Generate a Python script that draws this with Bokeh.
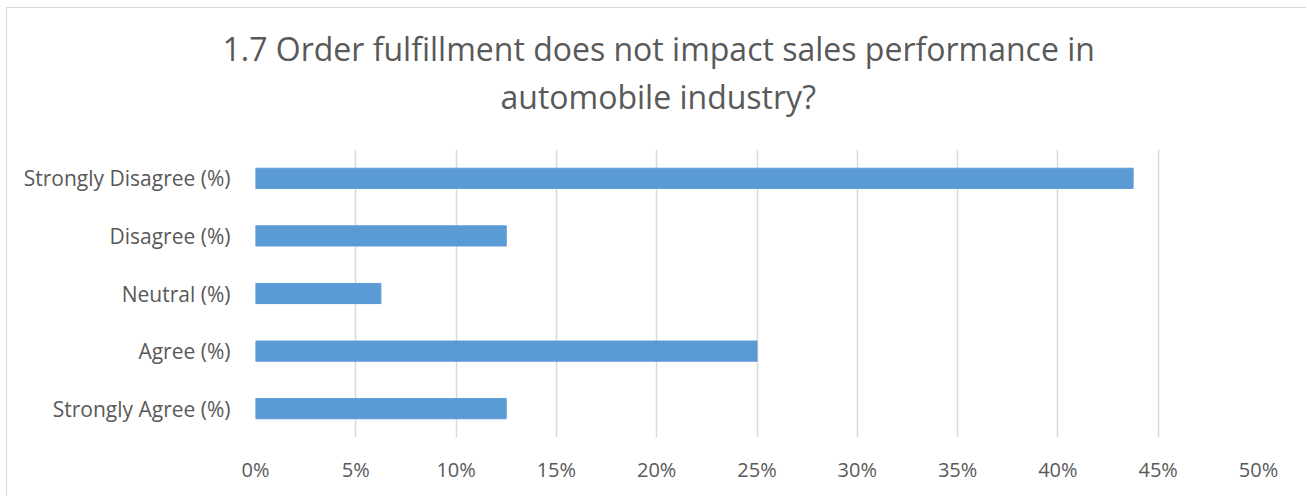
from bokeh.plotting import figure
from bokeh.models import Title, FixedTicker, Range1d
from bokeh.layouts import column
from bokeh.embed import file_html
from bokeh.resources import INLINE

categories = ["Strongly Agree (%)", "Agree (%)", "Neutral (%)", "Disagree (%)", "Strongly Disagree (%)"]
values = [12.5, 25.0, 6.25, 12.5, 43.75]
ticks = [0, 5, 10, 15, 20, 25, 30, 35, 40, 45, 50]
title_lines = ["1.7 Order fulfillment does not impact sales performance in", "automobile industry?"]

FONT = "Open Sans"
GREY = "#595959"
BORDER = "1px solid #d9d9d9"

# ---- title strip: first line sits above a hairline frame, second line below it
# (the column aligns this frame with the bar chart's frame, 0%..50%; the lines are
#  shifted from its left edge so that they centre on the chart box)
t = figure(width=1300, height=142, x_range=Range1d(0, 1), y_range=Range1d(0, 1),
           output_backend="svg", toolbar_location=None, title=None,
           min_border_left=248, min_border_right=49, min_border_top=62, min_border_bottom=77)
t.axis.visible = False
t.grid.visible = False
t.outline_line_color = None
t.styles = {"border-left": BORDER, "border-top": BORDER}
t.add_layout(Title(text=title_lines[0], align="left", offset=-33, vertical_align="bottom", standoff=2,
                   text_font=FONT, text_font_size="32px", text_color=GREY,
                   text_font_style="normal"), "above")
t.add_layout(Title(text=title_lines[1], align="left", offset=245, vertical_align="top", standoff=2,
                   text_font=FONT, text_font_size="32px", text_color=GREY,
                   text_font_style="normal"), "below")

# ---- bar chart
p = figure(width=1300, height=347, y_range=categories, x_range=Range1d(0, 50),
           output_backend="svg", toolbar_location=None, title=None,
           min_border_left=248, min_border_right=49, min_border_top=0, min_border_bottom=59)
p.styles = {"border-left": BORDER}
p.outline_line_color = None

p.hbar(y=categories, right=values, left=0, height=0.35, color="#5b9bd5")

p.xaxis.ticker = FixedTicker(ticks=ticks)
p.xaxis.major_label_overrides = {v: f"{v}%" for v in ticks}
for ax in (p.xaxis[0], p.yaxis[0]):
    ax.axis_line_color = None
    ax.major_tick_line_color = None
    ax.minor_tick_line_color = None
    ax.major_label_text_font = FONT
    ax.major_label_text_color = GREY
p.xaxis.major_label_text_font_size = "20px"
p.yaxis.major_label_text_font_size = "21px"
p.xaxis.major_label_standoff = 12
p.yaxis.major_label_standoff = 19

p.xgrid.ticker = FixedTicker(ticks=ticks)
p.xgrid.grid_line_color = "#d9d9d9"
p.xgrid.grid_line_width = 1.5
p.ygrid.grid_line_color = None

layout = column(t, p, spacing=0)
layout.margin = (7, 0, 0, 6)

open("out.html", "w").write(file_html(layout, INLINE))
